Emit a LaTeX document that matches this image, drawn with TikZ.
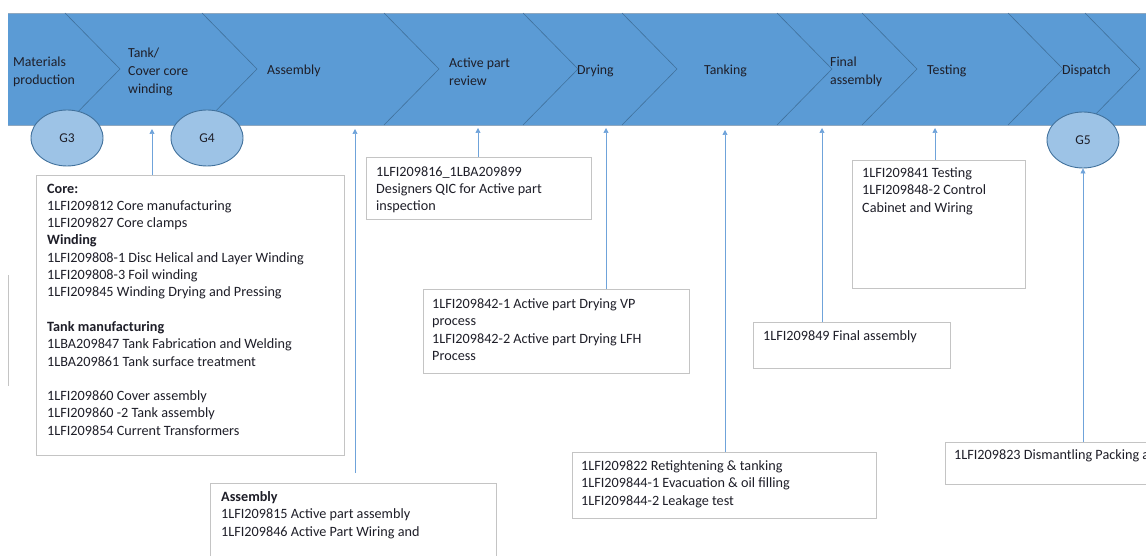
\documentclass[tikz,border=0pt]{standalone}
\usepackage{fontspec}
\setmainfont{Carlito}
\usetikzlibrary{arrows.meta,shapes.geometric,shadows}
\definecolor{bandfill}{HTML}{5B9BD5}
\definecolor{bandline}{HTML}{41719C}
\definecolor{bandedge}{HTML}{8FA8C0}
\definecolor{gatefill}{HTML}{9DC3E6}
\definecolor{arrowcol}{HTML}{6FA3DA}
\definecolor{boxedge}{HTML}{C4C4C4}
\definecolor{textcol}{HTML}{1E1E28}
\tikzset{
  chev/.style={draw=bandline, line width=0.6pt},
  stage/.style={anchor=west, align=left, inner sep=0pt, text=textcol, font=\fontsize{13.8}{18}\selectfont},
  gate/.style={ellipse, draw=bandline, line width=0.9pt, fill=gatefill, minimum width=72pt, minimum height=56pt, inner sep=0pt, text=textcol, font=\fontsize{13.5}{15}\selectfont},
  infobox/.style={draw=boxedge, line width=0.9pt, fill=white, anchor=north west, inner sep=0pt,
    drop shadow={shadow xshift=0.8pt, shadow yshift=-0.8pt, opacity=0.2}},
  boxtext/.style={anchor=north west, align=left, inner sep=0pt, text=textcol, font=\fontsize{14.2}{17.3}\selectfont},
  arr/.style={draw=arrowcol, line width=0.7pt, -{Triangle[width=5pt,length=5pt]}}
}
\begin{document}
\begin{tikzpicture}[x=1pt,y=-1pt]
\useasboundingbox (0,0) rectangle (1146,556);
\clip (0,0) rectangle (1146,556);
% stray line at left
\draw[draw=boxedge, line width=0.9pt] (8,275) -- (8,386);
% band
\fill[bandfill] (8,13) rectangle (1160,125);
\draw[draw=bandedge, line width=0.9pt] (8,13) -- (1160,13);
\draw[draw=bandedge, line width=0.9pt] (8,125) -- (1160,125);
% stage labels
\node[stage] (s1) at (13,71.5) {Materials\\production};
\node[stage] (s2) at (128,71.5) {Tank/\\Cover core\\winding};
\node[stage] (s3) at (267,71) {Assembly};
\node[stage] (s4) at (449,71.5) {Active part\\review};
\node[stage] (s5) at (577,71) {Drying};
\node[stage] (s6) at (704,71) {Tanking};
\node[stage] (s7) at (830,71.5) {Final\\assembly};
\node[stage] (s8) at (927,71) {Testing};
\node[stage] (s9) at (1062,71) {Dispatch};
% chevron separators
\foreach \a in {65,202,384,523,622,777,862,1008,1085}
  \draw[chev] (\a,13) -- (\a+55,69) -- (\a,125);
% gates
\node[gate] (g3) at (67,138) {G3};
\node[gate] (g4) at (207,138) {G4};
\node[gate] (g5) at (1083,140) {G5};
% boxes
\node[infobox, minimum width=308pt, minimum height=280pt] (b1) at (36,175) {};
\node[boxtext] (b1t) at (47,183.5) {\textbf{Core:}\\1LFI209812 Core manufacturing\\1LFI209827 Core clamps\\\textbf{Winding}\\1LFI209808-1 Disc Helical and Layer Winding\\1LFI209808-3 Foil winding\\1LFI209845 Winding Drying and Pressing\\[17.3pt]\textbf{Tank manufacturing}\\1LBA209847 Tank Fabrication and Welding\\1LBA209861 Tank surface treatment\\[17.3pt]1LFI209860 Cover assembly\\1LFI209860 -2 Tank assembly\\1LFI209854 Current Transformers};
\node[infobox, minimum width=225pt, minimum height=62pt] (b2) at (366,157) {};
\node[boxtext] (b2t) at (376,166.5) {1LFI209816\_1LBA209899\\Designers QIC for Active part\\inspection};
\node[infobox, minimum width=266pt, minimum height=84pt] (b3) at (423,289) {};
\node[boxtext] (b3t) at (432,298.5) {1LFI209842-1 Active part Drying VP\\process\\1LFI209842-2 Active part Drying LFH\\Process};
\node[infobox, minimum width=173pt, minimum height=128pt] (b4) at (852,160) {};
\node[boxtext] (b4t) at (862,167.5) {1LFI209841 Testing\\1LFI209848-2 Control\\Cabinet and Wiring};
\node[infobox, minimum width=197pt, minimum height=46pt] (b5) at (753,322) {};
\node[boxtext] (b5t) at (763,330.5) {1LFI209849 Final assembly};
\node[infobox, minimum width=304pt, minimum height=66pt] (b6) at (572,452) {};
\node[boxtext] (b6t) at (581,460.5) {1LFI209822 Retightening \& tanking\\1LFI209844-1 Evacuation \& oil filling\\1LFI209844-2 Leakage test};
\node[infobox, minimum width=240pt, minimum height=42pt] (b7) at (945,442) {};
\node[boxtext] (b7t) at (954,449.5) {1LFI209823 Dismantling Packing a};
\node[infobox, minimum width=286pt, minimum height=100pt] (b8) at (210,483) {};
\node[boxtext] (b8t) at (221,491.5) {\textbf{Assembly}\\1LFI209815 Active part assembly\\1LFI209846 Active Part Wiring and};
% arrow targets
\coordinate (t1) at (152,129);
\coordinate (t2) at (355,129);
\coordinate (a2) at (355,473);
\coordinate (t3) at (478,128);
\coordinate (t4) at (606,128);
\coordinate (t5) at (725,130);
\coordinate (t6) at (822,128);
\coordinate (t7) at (935,128);
\draw[arr] (b1.north -| t1) -- (t1);
\draw[arr] (a2) -- (t2);
\draw[arr] (b2.north -| t3) -- (t3);
\draw[arr] (b3.north -| t4) -- (t4);
\draw[arr] (b6.north -| t5) -- (t5);
\draw[arr] (b5.north -| t6) -- (t6);
\draw[arr] (b4.north -| t7) -- (t7);
\draw[arr] (b7.north -| g5.south) -- (g5.south);
\end{tikzpicture}
\end{document}
